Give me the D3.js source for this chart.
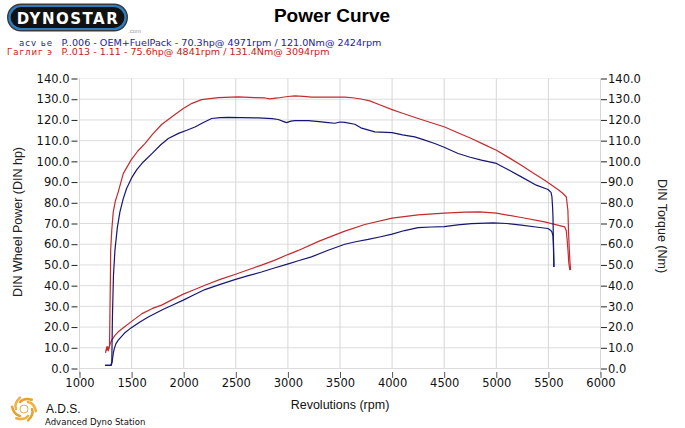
<!DOCTYPE html>
<html><head><meta charset="utf-8">
<script src="https://cdn.jsdelivr.net/npm/d3@7"></script>
<style>html,body{margin:0;padding:0;background:#fff;}svg{display:block;}</style>
</head><body>
<svg id="c" width="685" height="428"></svg>
<script>
// ---------- data ----------
const title = "Power Curve";
const runNames = ["асv ье", "Гаглиг э"];
const runInfo = ["P..006 - OEM+FuelPack  - 70.3hp@ 4971rpm / 121.0Nm@ 2424rpm",
                 "P..013 - 1.11  - 75.6hp@ 4841rpm / 131.4Nm@ 3094rpm"];
const xTicks = [1000,1500,2000,2500,3000,3500,4000,4500,5000,5500,6000];
const yTicks = [0,10,20,30,40,50,60,70,80,90,100,110,120,130,140];

const blueTorque = [[1245,1.5],[1300,1.5],[1310,3],[1316,25],[1326,45],[1340,57],[1363,68],[1388,75.6],[1420,82],[1452,86.9],[1500,92],[1550,96],[1612,99.7],[1700,104],[1780,108],[1852,111],[1950,113.5],[2030,115],[2108,116.6],[2180,118.5],[2268,120.7],[2350,121.1],[2427,121.2],[2550,121.1],[2715,121.0],[2850,120.6],[2907,120.2],[2960,119.2],[2987,118.7],[3030,119.4],[3067,119.7],[3195,119.7],[3300,119.2],[3387,118.7],[3451,118.4],[3500,119.0],[3546,118.8],[3642,117.9],[3700,116.2],[3834,114.2],[4000,113.9],[4100,112.8],[4217,111.8],[4300,110.5],[4409,108.6],[4500,106.8],[4633,103.8],[4750,102],[4857,100.6],[5001,99.0],[5120,95.8],[5240,92.5],[5384,88.5],[5496,86.4],[5525,85],[5534,82.8],[5540,78],[5544,73.2],[5548,62],[5553,49.0]];
const redTorque = [[1250,7.5],[1262,10.5],[1275,8.5],[1288,11],[1293,30],[1297,45],[1299,57],[1310,67],[1324,75.6],[1345,81],[1372,85.3],[1420,94.1],[1494,100.6],[1560,105],[1628,108.6],[1700,113],[1788,117.8],[1900,122],[1996,125.5],[2080,128],[2172,129.8],[2332,130.8],[2523,131.1],[2683,130.8],[2780,130.6],[2827,130.2],[2900,130.6],[3000,131.3],[3067,131.6],[3150,131.4],[3227,131.0],[3400,131.0],[3547,131.0],[3620,130.7],[3700,130.1],[3786,129.2],[3880,127.3],[4000,125.0],[4100,123.2],[4249,120.7],[4400,118.3],[4505,116.6],[4630,113.8],[4761,111.0],[4880,108.2],[5001,105.4],[5120,101.8],[5240,98.1],[5350,94.5],[5464,90.9],[5592,86.4],[5640,84.5],[5672,82.8],[5687,76.4],[5694,65.2],[5700,58],[5706,52],[5713,47.5]];
const bluePower = [[1245,1.5],[1305,1.5],[1312,3],[1318,5],[1325,7.5],[1334,9.6],[1350,12],[1372,13.7],[1430,17],[1494,19.6],[1580,22.5],[1660,24.9],[1800,28.5],[1900,30.8],[1996,33.0],[2100,35.6],[2204,38.1],[2350,40.6],[2498,43.0],[2620,44.8],[2747,46.6],[2870,48.5],[2996,50.4],[3100,52],[3226,53.9],[3386,57.1],[3546,60.0],[3650,61.2],[3770,62.3],[3880,63.5],[4000,64.9],[4120,66.6],[4249,68.0],[4380,68.3],[4500,68.5],[4630,69.3],[4761,69.9],[4971,70.3],[5100,70.0],[5240,69.2],[5380,68.3],[5496,67.6],[5520,66.8],[5534,65.9],[5544,64],[5548,60],[5550,55],[5553,49]];
const redPower = [[1255,8.5],[1268,10.5],[1280,9.5],[1295,12],[1309,13.7],[1340,16],[1372,17.7],[1430,20],[1494,22.5],[1600,26.5],[1700,29],[1788,30.6],[1900,33.5],[1996,35.9],[2100,38],[2204,40.2],[2350,43],[2498,45.5],[2620,47.7],[2747,49.9],[2870,52.2],[3000,55.0],[3100,57.0],[3300,61.5],[3546,66.3],[3738,69.5],[4000,72.6],[4249,74.2],[4500,75.0],[4700,75.5],[4841,75.6],[5001,75.0],[5240,72.9],[5464,70.8],[5656,68.4],[5672,66.5],[5680,62],[5688,57],[5696,51],[5706,47.5]];

const blueColor = "#161672", redColor = "#c42a2e";

// ---------- chart ----------
const svg = d3.select("#c");
svg.append("rect").attr("width",685).attr("height",428).attr("fill","#fff");

const x = d3.scaleLinear().domain([1000,6000]).range([79.5,600.5]);
const y = d3.scaleLinear().domain([0,140]).range([368.5,78.5]);

// grid
const grid = svg.append("g");
grid.selectAll(".hg").data(yTicks.slice(1)).join("line")
  .attr("x1",x(1000)).attr("x2",x(6000)).attr("y1",d=>y(d)).attr("y2",d=>y(d))
  .attr("stroke",d=>d===140?"#efefef":"#dcdcdc").attr("stroke-width",1);
grid.selectAll(".vg").data(xTicks).join("line")
  .attr("x1",d=>x(d)).attr("x2",d=>x(d)).attr("y1",y(140)).attr("y2",d=>(d===1000||d===6000)?375:y(0))
  .attr("stroke","#d6d6d6").attr("stroke-width",1);
grid.append("line").attr("x1",x(1000)).attr("x2",x(6000)).attr("y1",y(0)).attr("y2",y(0))
  .attr("stroke","#dcdcdc");

const tickFont = "'DejaVu Sans', Verdana, sans-serif";
// left axis
const ax1 = svg.append("g").attr("transform","translate(77.5,0)")
  .call(d3.axisLeft(y).tickValues(yTicks).tickFormat(d=>d.toFixed(1)).tickSize(6).tickPadding(2));
// right axis
const ax2 = svg.append("g").attr("transform","translate(601,0)")
  .call(d3.axisRight(y).tickValues(yTicks).tickFormat(d=>d.toFixed(1)).tickSize(6).tickPadding(1));
// bottom axis
const ax3 = svg.append("g").attr("transform","translate(0,372)")
  .call(d3.axisBottom(x).tickValues(xTicks).tickFormat(d3.format("d")).tickSize(6).tickPadding(1));
[ax1,ax2,ax3].forEach(a=>{
  a.select(".domain").remove();
  a.selectAll(".tick line").attr("stroke","#222");
  a.selectAll(".tick text").attr("fill","#111").style("font-family",tickFont).style("font-size","11.5px");
});
ax3.selectAll(".tick line").attr("stroke","#555");

// lines
const line = d3.line().x(d=>x(d[0])).y(d=>y(d[1]));
const series = [[redTorque,redColor],[redPower,redColor],[blueTorque,blueColor],[bluePower,blueColor]];
svg.append("g").selectAll("path").data(series).join("path")
  .attr("d",d=>line(d[0])).attr("fill","none").attr("stroke",d=>d[1]).attr("stroke-width",1.2)
  .attr("stroke-linejoin","round");

// axis titles
const labFont = "'Liberation Sans', Arial, sans-serif";
svg.append("text").attr("transform","translate(22,222) rotate(-90)").attr("text-anchor","middle")
  .style("font-family",labFont).style("font-size","12.5px").attr("fill","#222").text("DIN Wheel Power (DIN hp)");
svg.append("text").attr("transform","translate(658,226) rotate(90)").attr("text-anchor","middle")
  .style("font-family",labFont).style("font-size","12.5px").attr("fill","#222").text("DIN Torque (Nm)");
svg.append("text").attr("x",340).attr("y",409).attr("text-anchor","middle")
  .style("font-family",labFont).style("font-size","12.5px").attr("fill","#111").text("Revolutions (rpm)");

// title
svg.append("text").attr("x",332).attr("y",22).attr("text-anchor","middle")
  .style("font-family",labFont).style("font-size","19px").style("font-weight","bold").attr("fill","#000").text(title);

// legend
const legColors = ["#1c1c9a", "#d41515"];
const legFont = "'DejaVu Sans', Verdana, sans-serif";
[0,1].forEach(i=>{
  const by = 46.2 + i*9.2;
  svg.append("text").attr("x", i===0 ? 19 : 7).attr("y",by)
    .style("font-family",legFont).style("font-size","8.6px").attr("fill",legColors[i]).text(runNames[i])
    .attr("textLength", i===0 ? 33 : 45).attr("lengthAdjust","spacing");
  const t = svg.append("text").attr("x",61.5).attr("y",by)
    .style("font-family",legFont).style("font-size","8.6px").attr("fill",legColors[i]).text(runInfo[i]);
  t.attr("textLength", i===0 ? 320 : 268).attr("lengthAdjust","spacingAndGlyphs");
});

// Dynostar logo
const lg = svg.append("g");
lg.append("rect").attr("x",7).attr("y",3.5).attr("width",121).attr("height",28).attr("rx",14)
  .attr("fill","#3a3a3a");
lg.append("rect").attr("x",9.5).attr("y",6).attr("width",116).attr("height",23).attr("rx",11.5)
  .attr("fill","#111").attr("stroke","#2a7fc4").attr("stroke-width",2.2);
lg.append("text").attr("x",68).attr("y",23.5).attr("text-anchor","middle")
  .style("font-family","'DejaVu Sans', sans-serif").style("font-size","15px").style("font-weight","bold")
  .attr("letter-spacing","1.5").attr("fill","#fff").text("DYNOSTAR");
lg.append("text").attr("x",128).attr("y",33).style("font-family",labFont).style("font-size","6px")
  .attr("fill","#999").text(".com");

// ADS logo
const ads = svg.append("g").attr("transform","translate(24,409)");
d3.range(6).forEach(k=>{
  const a = k*Math.PI/3;
  ads.append("path").attr("d",`M${8*Math.cos(a)},${8*Math.sin(a)} q ${6*Math.cos(a+1.2)},${6*Math.sin(a+1.2)} ${12*Math.cos(a+1.9)},${12*Math.sin(a+1.9)}`)
    .attr("fill","none").attr("stroke",k%2?"#f0b040":"#e8a030").attr("stroke-width",2.5).attr("stroke-linecap","round");
});
ads.append("circle").attr("r",4).attr("fill","none").attr("stroke","#e8b050").attr("stroke-width",1);
svg.append("text").attr("x",46).attr("y",413).style("font-family",labFont).style("font-size","12px")
  .attr("fill","#111").text("A.D.S.");
svg.append("text").attr("x",45).attr("y",425).style("font-family","'DejaVu Sans Condensed','DejaVu Sans',sans-serif").style("font-size","9.5px")
  .attr("fill","#111").text("Advanced Dyno Station");
</script>
</body></html>
